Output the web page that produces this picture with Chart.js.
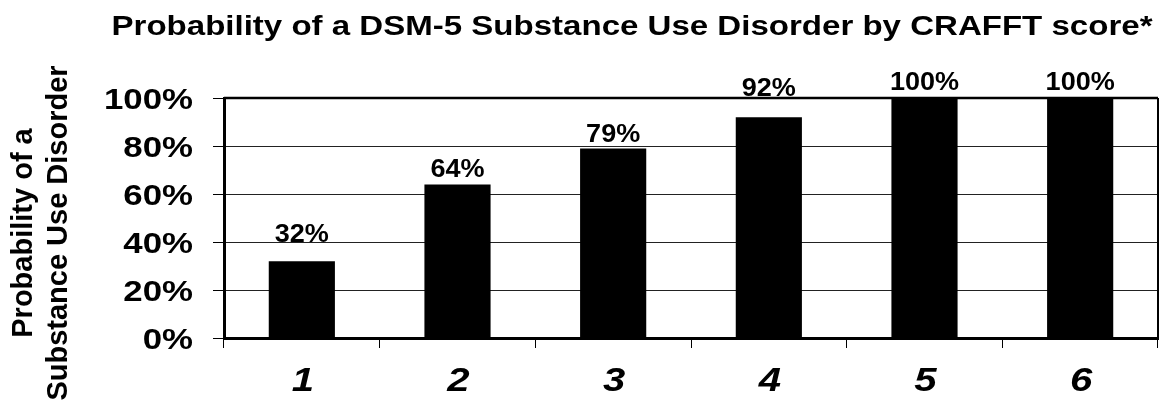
<!DOCTYPE html>
<html>
<head>
<meta charset="utf-8">
<title>Probability of a DSM-5 Substance Use Disorder by CRAFFT score</title>
<script src="https://cdn.jsdelivr.net/npm/chart.js@4/dist/chart.umd.min.js"></script>
<style>
  html, body { margin: 0; padding: 0; background: #fff; }
  #wrap { position: relative; width: 1164px; height: 402px; }
</style>
</head>
<body>
<div id="wrap"><canvas id="chart"></canvas></div>
<script>
// CRAFFT score categories and the share of youth meeting DSM-5 SUD criteria
const categories = ['1', '2', '3', '4', '5', '6'];
const probability = [32, 64, 79, 92, 100, 100];
const valueLabels = ['32%', '64%', '79%', '92%', '100%', '100%'];
const yTickLabels = ['0%', '20%', '40%', '60%', '80%', '100%'];

const chartTitle = 'Probability of a DSM-5 Substance Use Disorder by CRAFFT score*';
const yTitleLines = ['Probability of a', 'Substance Use Disorder'];

const FONT = '"Liberation Sans", Arial, Helvetica, sans-serif';

// Draws horizontally widened text (the labels use an expanded bold face)
function wideText(ctx, text, x, y, font, sx, align) {
  ctx.save();
  ctx.font = font;
  ctx.fillStyle = '#000';
  ctx.textAlign = align;
  ctx.textBaseline = 'alphabetic';
  ctx.translate(x, y);
  ctx.scale(sx, 1);
  ctx.fillText(text, 0, 0);
  ctx.restore();
}

const textPlugin = {
  id: 'chartText',
  afterDraw(chart, args, opts) {
    const ctx = chart.ctx;
    const area = chart.chartArea;
    const xs = chart.scales.x;
    const ys = chart.scales.y;

    // top and right frame of the plot box
    ctx.save();
    ctx.strokeStyle = '#000';
    ctx.lineWidth = 2.5;
    ctx.beginPath();
    ctx.moveTo(area.left, area.top);
    ctx.lineTo(area.right, area.top);
    ctx.stroke();
    ctx.lineWidth = 2;
    ctx.beginPath();
    ctx.moveTo(area.right, area.top);
    ctx.lineTo(area.right, area.bottom);
    ctx.stroke();
    ctx.restore();

    // title
    wideText(ctx, chartTitle, 632, 35, 'bold 28px ' + FONT, 1.18, 'center');

    // y tick labels
    ys.ticks.forEach((t, i) => {
      const idx = Math.round(t.value / 20);
      const lbl = yTickLabels[idx];
      const y = ys.getPixelForTick(i);
      wideText(ctx, lbl, 193, y + 11, 'bold 29px ' + FONT, 1.2, 'right');
    });

    // x category labels
    categories.forEach((c, i) => {
      const x = xs.getPixelForValue(i);
      wideText(ctx, c, x + 1, 391, 'italic bold 34px ' + FONT, 1.18, 'center');
    });

    // value labels above the bars
    const meta = chart.getDatasetMeta(0);
    meta.data.forEach((bar, i) => {
      const lift = opts.lift[i];
      wideText(ctx, valueLabels[i], bar.x, bar.y - lift, 'bold 26px ' + FONT, 1.04, 'center');
    });

    // rotated two-line y-axis title
    ctx.save();
    ctx.font = 'bold 29px ' + FONT;
    ctx.fillStyle = '#000';
    ctx.textAlign = 'center';
    ctx.textBaseline = 'alphabetic';
    const baselines = [32, 66.5];
    yTitleLines.forEach((line, i) => {
      ctx.save();
      ctx.translate(baselines[i], 233);
      ctx.rotate(-Math.PI / 2);
      ctx.fillText(line, 0, 0);
      ctx.restore();
    });
    ctx.restore();
  }
};

new Chart(document.getElementById('chart'), {
  type: 'bar',
  data: {
    labels: categories,
    datasets: [{
      data: probability,
      backgroundColor: '#000',
      borderWidth: 0,
      barPercentage: 0.425,
      categoryPercentage: 1.0
    }]
  },
  options: {
    responsive: true,
    maintainAspectRatio: false,
    animation: false,
    events: [],
    layout: { padding: { top: 98, right: 6, bottom: 0, left: 0 } },
    plugins: {
      legend: { display: false },
      title: { display: false },
      tooltip: { enabled: false },
      chartText: { lift: [19, 7, 6, 21, 8, 8] }
    },
    scales: {
      x: {
        offset: true,
        grid: {
          offset: true,
          drawOnChartArea: false,
          drawTicks: true,
          tickLength: 10,
          tickColor: '#000',
          tickWidth: 1
        },
        border: { display: true, color: '#000', width: 3 },
        ticks: { display: false },
        afterFit(scale) { scale.height = 64; }
      },
      y: {
        min: 0,
        max: 100,
        ticks: {
          display: false,
          stepSize: 20,
          callback: (v) => yTickLabels[Math.round(v / 20)]
        },
        grid: {
          color: '#222',
          lineWidth: 1,
          drawTicks: true,
          tickLength: 11,
          tickColor: '#000',
          tickWidth: 1
        },
        border: { display: true, color: '#000', width: 3 },
        afterFit(scale) { scale.width = 224; }
      }
    }
  },
  plugins: [textPlugin]
});
</script>
</body>
</html>
